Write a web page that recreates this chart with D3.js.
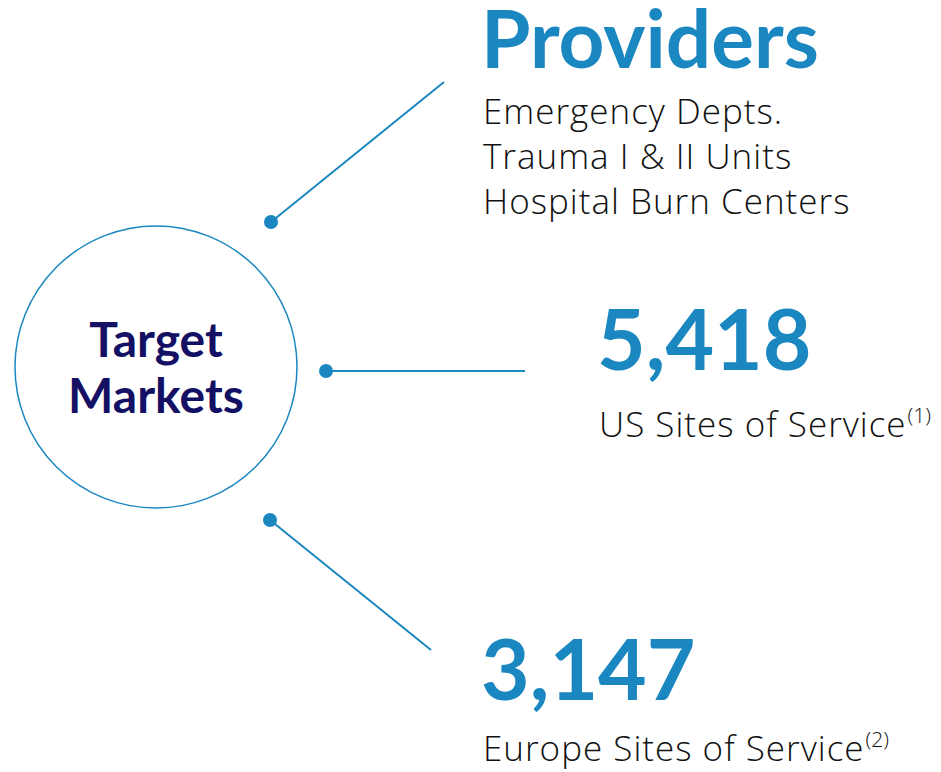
<!DOCTYPE html>
<html>
<head>
<meta charset="utf-8">
<script src="https://cdn.jsdelivr.net/npm/d3@7"></script>
<style>
  body { margin: 0; background: #fff; }
  text { font-family: Lato, "Open Sans", sans-serif; }
  .light { font-family: "Open Sans", Lato, sans-serif; }
</style>
</head>
<body>
<div id="chart"></div>
<script>
// data
var centerLabel = ["Target", "Markets"];
var headlines = ["Providers", "5,418", "3,147"];
var subLines = [
  ["Emergency Depts.", "Trauma I & II Units", "Hospital Burn Centers"],
  ["US Sites of Service"],
  ["Europe Sites of Service"]
];
var footnotes = ["", "(1)", "(2)"];

var width = 941, height = 772;
var blue = "#1a87c0", navy = "#141064";

var svg = d3.select("#chart")
  .append("svg")
    .attr("width", width)
    .attr("height", height);

// layout of the three branches (connector start/end and text anchor)
var branch = [
  {x1: 271, y1: 222, x2: 444, y2: 82,  tx: 484, ty: 68},
  {x1: 326, y1: 371, x2: 525, y2: 371, tx: 600, ty: 370},
  {x1: 270, y1: 520, x2: 431, y2: 650, tx: 484, ty: 700}
];

// big circle
svg.append("circle")
  .attr("cx", 156)
  .attr("cy", 367)
  .attr("r", 141)
  .attr("fill", "none")
  .attr("stroke", blue)
  .attr("stroke-width", 1.5);

svg.selectAll(".center")
  .data(centerLabel)
  .enter()
  .append("text")
    .attr("x", 156)
    .attr("y", function(d, i) { return 357 + i * 56; })
    .attr("text-anchor", "middle")
    .attr("font-size", 48)
    .attr("font-weight", 700)
    .attr("fill", navy)
    .text(function(d) { return d; });

var g = svg.selectAll(".branch")
  .data(headlines)
  .enter()
  .append("g");

g.append("line")
  .attr("x1", function(d, i) { return branch[i].x1; })
  .attr("y1", function(d, i) { return branch[i].y1; })
  .attr("x2", function(d, i) { return branch[i].x2; })
  .attr("y2", function(d, i) { return branch[i].y2; })
  .attr("stroke", blue)
  .attr("stroke-width", 2);

g.append("circle")
  .attr("cx", function(d, i) { return branch[i].x1; })
  .attr("cy", function(d, i) { return branch[i].y1; })
  .attr("r", 7)
  .attr("fill", blue);

g.append("text")
  .attr("x", function(d, i) { return branch[i].tx - 3; })
  .attr("y", function(d, i) { return branch[i].ty; })
  .attr("font-size", function(d, i) { return i == 0 ? 80 : 84; })
  .attr("font-weight", 700)
  .attr("fill", blue)
  .text(function(d) { return d; });

g.each(function(d, i) {
  var sel = d3.select(this);
  var first = i == 0 ? 56 : 67;
  subLines[i].forEach(function(line, j) {
    var t = sel.append("text")
      .attr("class", "light")
      .attr("x", branch[i].tx - 1)
      .attr("y", branch[i].ty + first + j * 45 - (i == 2 ? 6 : 0))
      .attr("font-size", 35)
      .attr("font-weight", 300)
      .attr("letter-spacing", 1)
      .attr("fill", "#111");
    t.append("tspan").text(line);
    if (footnotes[i]) {
      t.append("tspan")
        .attr("dy", -14)
        .attr("dx", 1)
        .attr("font-size", 21)
        .attr("letter-spacing", 0)
        .text(footnotes[i]);
    }
  });
});
</script>
</body>
</html>
